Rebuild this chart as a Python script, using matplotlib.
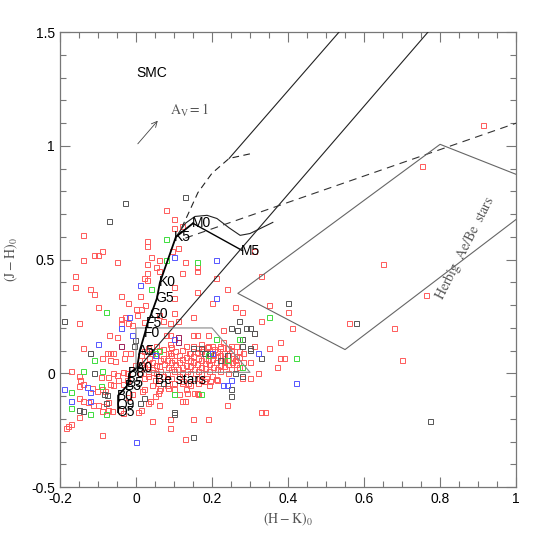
import matplotlib
matplotlib.use('Agg')
import matplotlib.pyplot as plt
import numpy as np

plt.rcParams['font.family'] = ['Liberation Sans', 'DejaVu Sans']
plt.rcParams['mathtext.fontset'] = 'stix'

# 样本星的 (H-K)_0, (J-H)_0 —— 从原图读出
red_pts = np.array([
    # 右侧与上方的散点
    (0.913, 1.094), (0.753, 0.910), (0.650, 0.480), (0.763, 0.347), (0.330, 0.430),
    (0.240, 0.370), (0.350, 0.300), (0.400, 0.270), (0.260, 0.290), (0.280, 0.270),
    (0.330, 0.230), (0.230, 0.190), (0.310, 0.180), (0.410, 0.200), (0.560, 0.220),
    (0.680, 0.200), (0.380, 0.140), (0.350, 0.110), (0.380, 0.070), (0.370, 0.030),
    (0.700, 0.057), (0.300, 0.050), (0.390, 0.070), (0.320, 0.000), (0.280, -0.020),
    (0.340, -0.170), (0.330, -0.170), (0.240, -0.140), (0.310, 0.540),
    # 左上
    (0.080, 0.720), (0.100, 0.680), (0.100, 0.640), (0.120, 0.650), (-0.140, 0.610),
    (0.110, 0.550), (0.095, 0.540), (0.030, 0.580), (0.030, 0.560), (-0.090, 0.540),
    (-0.110, 0.520), (-0.100, 0.520), (-0.140, 0.500), (-0.050, 0.490), (0.040, 0.510),
    (0.060, 0.500), (0.130, 0.490), (0.030, 0.480), (0.053, 0.470), (0.160, 0.470),
    (0.160, 0.450), (0.060, 0.450), (0.030, 0.440), (0.120, 0.440), (-0.160, 0.430),
    (0.020, 0.420), (0.030, 0.410), (0.210, 0.420), (-0.160, 0.380), (-0.120, 0.370),
    (-0.110, 0.350), (0.100, 0.380), (0.160, 0.360), (-0.040, 0.340), (0.010, 0.340),
    (0.100, 0.330), (-0.020, 0.310), (0.200, 0.310), (-0.100, 0.290), (0.000, 0.285),
    (0.013, 0.285), (0.024, 0.300), (-0.150, 0.220), (-0.040, 0.240), (-0.040, 0.220),
    (-0.030, 0.250), (0.003, 0.255), (0.060, 0.255), (0.100, 0.265), (0.150, 0.250),
    (0.070, 0.230), (0.090, 0.220), (0.110, 0.230), (-0.020, 0.220), (-0.010, 0.215),
    (0.020, 0.225), (-0.070, 0.170), (-0.050, 0.160), (0.080, 0.170), (0.090, 0.170),
    (0.150, 0.170), (0.160, 0.170), (-0.140, 0.110), (0.190, 0.170), (0.230, 0.140),
    (0.090, 0.130), (0.170, 0.130), (0.150, 0.120), (0.190, 0.120), (0.200, 0.120),
    (0.220, 0.110), (0.240, 0.110), (0.250, 0.120), (0.310, 0.120), (0.090, 0.090),
    (0.140, 0.090), (0.160, 0.095),
    # 左下
    (-0.090, 0.070), (-0.076, 0.090), (-0.068, 0.090), (-0.060, 0.090), (-0.030, 0.090),
    (-0.016, 0.090), (-0.068, 0.060), (-0.055, 0.055), (-0.032, 0.070), (-0.003, 0.035),
    (-0.170, 0.010), (-0.092, -0.015), (-0.074, -0.015), (-0.060, 0.000), (-0.050, -0.005),
    (-0.034, 0.005), (-0.024, 0.000), (-0.150, -0.010), (-0.147, -0.027), (-0.150, -0.055),
    (-0.140, -0.045), (-0.115, -0.065), (-0.103, -0.075), (-0.089, -0.070), (-0.082, -0.075),
    (-0.068, -0.045), (-0.060, -0.050), (-0.047, -0.030), (-0.034, -0.045), (-0.024, -0.030),
    (-0.150, -0.110), (-0.140, -0.120), (-0.127, -0.125), (-0.113, -0.140), (-0.100, -0.140),
    (-0.087, -0.145), (-0.074, -0.125), (-0.089, -0.165), (-0.074, -0.160), (-0.063, -0.165),
    (-0.150, -0.190), (-0.180, -0.230), (-0.170, -0.220), (-0.183, -0.240), (-0.090, -0.270),
    (0.005, -0.170), (0.013, -0.160), (0.042, -0.210), (0.032, -0.130), (0.037, -0.120),
    (0.050, -0.100), (0.058, -0.085), (-0.010, -0.090), (-0.021, -0.105), (0.050, -0.030),
    (0.058, -0.040), (0.032, 0.000), (0.045, 0.005), (0.016, -0.075), (-0.042, -0.160),
    (-0.034, -0.175), (0.090, -0.240), (0.130, -0.290), (0.130, -0.123), (0.120, -0.123),
    (0.060, -0.140), (0.090, -0.200), (0.150, -0.200), (0.190, -0.200), (0.063, -0.062),
    (0.084, -0.062), (0.134, -0.088), (0.153, -0.084), (0.160, -0.088), (0.100, -0.044),
    (0.120, -0.044), (0.137, -0.044), (0.163, -0.044), (0.180, -0.031), (0.195, -0.031),
    (0.210, -0.026), (0.300, -0.022),
    # 中央密集区
    (0.052, 0.120), (0.093, 0.118), (0.131, 0.121), (0.188, 0.117), (0.221, 0.122), (0.262, 0.119),
    (0.031, 0.110), (0.072, 0.108), (0.163, 0.111), (0.204, 0.108), (0.243, 0.112),
    (0.022, 0.100), (0.061, 0.101), (0.103, 0.098), (0.122, 0.102), (0.171, 0.100), (0.212, 0.098),
    (0.251, 0.101), (0.272, 0.099),
    (0.041, 0.090), (0.083, 0.088), (0.142, 0.091), (0.182, 0.089), (0.232, 0.090), (0.281, 0.088),
    (0.012, 0.080), (0.053, 0.081), (0.092, 0.079), (0.113, 0.080), (0.151, 0.078), (0.191, 0.081),
    (0.203, 0.079), (0.222, 0.080), (0.241, 0.082), (0.262, 0.078),
    (0.033, 0.070), (0.071, 0.068), (0.132, 0.071), (0.162, 0.070), (0.181, 0.069), (0.212, 0.071),
    (0.231, 0.068), (0.252, 0.070), (0.271, 0.072),
    (0.021, 0.060), (0.062, 0.061), (0.081, 0.059), (0.101, 0.060), (0.122, 0.062), (0.143, 0.059),
    (0.172, 0.061), (0.190, 0.058), (0.201, 0.062), (0.223, 0.060), (0.242, 0.059), (0.261, 0.061),
    (0.042, 0.050), (0.091, 0.049), (0.112, 0.051), (0.151, 0.050), (0.182, 0.048), (0.211, 0.051),
    (0.232, 0.049), (0.253, 0.050), (0.282, 0.052),
    (0.012, 0.040), (0.031, 0.041), (0.052, 0.039), (0.073, 0.040), (0.102, 0.042), (0.131, 0.039),
    (0.161, 0.040), (0.192, 0.041), (0.221, 0.038), (0.243, 0.040), (0.262, 0.041),
    (0.022, 0.030), (0.061, 0.031), (0.083, 0.029), (0.121, 0.030), (0.142, 0.032), (0.171, 0.029),
    (0.202, 0.030), (0.231, 0.031), (0.272, 0.029),
    (0.043, 0.020), (0.092, 0.021), (0.111, 0.019), (0.152, 0.020), (0.181, 0.022), (0.213, 0.020),
    (0.251, 0.019),
    (0.032, 0.010), (0.063, 0.011), (0.101, 0.009), (0.133, 0.010), (0.162, 0.012), (0.191, 0.010),
    (0.222, 0.009),
    (0.011, 0.000), (0.052, 0.001), (0.082, -0.001), (0.121, 0.000), (0.142, 0.002), (0.172, -0.001),
    (0.241, 0.000),
    (0.031, -0.010), (0.072, -0.011), (0.112, -0.009), (0.201, -0.010),
    (0.022, -0.020), (0.091, -0.021), (0.152, -0.019), (0.183, -0.020),
    (0.051, -0.030), (0.123, -0.031), (0.171, -0.029), (0.212, -0.030),
    (0.041, -0.050), (0.082, -0.049), (0.141, -0.051), (0.192, -0.050),
    (0.021, -0.070), (0.061, -0.071), (0.101, -0.069), (0.132, -0.070),
    (0.112, -0.090), (0.163, -0.091),
])

black_pts = np.array([
    (-0.030, 0.750), (-0.070, 0.670), (0.130, 0.775), (0.400, 0.310), (0.270, 0.230),
    (0.250, 0.200), (0.290, 0.200), (0.300, 0.200), (0.310, 0.180), (0.580, 0.220),
    (0.330, 0.070), (0.300, 0.110), (0.280, 0.150), (-0.190, 0.230), (0.774, -0.210),
    (0.265, 0.190), (0.150, 0.110), (0.170, 0.110), (0.180, 0.090), (0.195, 0.090),
    (0.280, 0.120), (0.300, 0.105), (0.260, 0.000), (0.280, -0.010), (-0.120, 0.090),
    (-0.110, 0.000), (-0.150, -0.160), (-0.140, -0.165), (0.100, -0.170), (0.100, -0.180),
    (0.250, -0.070), (0.150, -0.280), (0.010, -0.130), (0.020, -0.110), (-0.085, -0.090),
    (-0.075, -0.095), (-0.080, -0.130), (0.040, 0.100), (0.070, -0.040), (0.250, -0.100),
    (0.220, 0.060), (0.240, 0.080), (-0.005, 0.120), (-0.003, 0.145),
])

green_pts = np.array([
    (0.080, 0.590), (0.080, 0.500), (0.160, 0.490), (0.040, 0.370), (-0.080, 0.270),
    (0.350, 0.250), (0.270, 0.150), (0.420, 0.070), (0.210, 0.150), (-0.110, 0.060),
    (-0.140, 0.010), (-0.090, 0.010), (-0.170, -0.080), (-0.170, -0.150), (-0.120, -0.180),
    (-0.080, -0.180), (0.280, 0.030), (0.100, -0.090), (0.170, -0.090), (0.060, 0.100),
    (0.190, 0.080), (0.240, 0.060), (-0.093, -0.055), (0.050, 0.090),
])

blue_pts = np.array([
    (0.100, 0.510), (0.210, 0.500), (0.010, 0.390), (0.210, 0.330), (-0.018, 0.250),
    (-0.040, 0.200), (-0.010, 0.170), (-0.100, 0.130), (0.320, 0.090), (0.100, 0.150),
    (-0.190, -0.070), (-0.170, -0.120), (-0.130, -0.060), (-0.120, -0.080), (0.000, -0.300),
    (0.250, -0.030), (0.420, -0.040), (0.230, -0.050), (0.240, -0.050), (0.050, 0.080),
    (0.200, 0.090), (-0.120, -0.120),
])

purple_pts = np.array([(-0.040, 0.120), (0.110, 0.160), (0.110, 0.140)])

# 主序星轨迹与光谱型
sp_types = ['O5', 'O9', 'B0', 'B3', 'B5', 'B8', 'A0', 'A5', 'F0', 'F5', 'G0', 'G5', 'K0', 'K5', 'M0', 'M5']
sp_hk = [-0.047, -0.047, -0.047, -0.025, -0.02, -0.018, 0.003, 0.01, 0.024, 0.03, 0.04, 0.055, 0.063, 0.105, 0.15, 0.28]
sp_jh = [-0.17, -0.137, -0.097, -0.057, -0.04, 0.0, 0.026, 0.10, 0.18, 0.22, 0.26, 0.33, 0.40, 0.60, 0.66, 0.54]

# Bessell & Brett 矮星 M 型尾部
bb_hk = [0.105, 0.13, 0.155, 0.187, 0.213, 0.245, 0.274, 0.30, 0.36]
bb_jh = [0.60, 0.66, 0.69, 0.695, 0.681, 0.64, 0.607, 0.615, 0.664]

# 巨星支（虚线）
giant_hk = [0.12, 0.137, 0.163, 0.20, 0.245, 0.305]
giant_jh = [0.64, 0.70, 0.795, 0.88, 0.945, 0.967]

# 红化线
redA_hk, redA_jh = [0.245, 0.534], [0.945, 1.5]
redB_hk, redB_jh = [0.005, 0.768], [0.022, 1.5]

# CTTS 轨迹
ctts_hk, ctts_jh = [0.13, 1.0], [0.595, 1.10]

# Herbig Ae/Be 区域
haebe_hk = [1.0, 0.80, 0.268, 0.55, 1.0]
haebe_jh = [0.875, 1.007, 0.352, 0.105, 0.677]

# Be 星区域
be_hk = [0.0, 0.0, 0.2, 0.3, 0.0]
be_jh = [0.005, 0.2, 0.2, 0.005, 0.005]

fig = plt.figure(figsize=(5.45, 5.45), dpi=100)
ax = fig.add_axes([0.110, 0.106, 0.837, 0.835])

mk = dict(marker='s', linestyle='none', markersize=3.6, markeredgewidth=0.7,
          markerfacecolor='none', zorder=2)
ax.plot(red_pts[:, 0], red_pts[:, 1], markeredgecolor='#ff5a5a', **mk)
ax.plot(black_pts[:, 0], black_pts[:, 1], markeredgecolor='#555555', **mk)
ax.plot(green_pts[:, 0], green_pts[:, 1], markeredgecolor='#3ddc3d', **mk)
ax.plot(blue_pts[:, 0], blue_pts[:, 1], markeredgecolor='#5555ff', **mk)
ax.plot(purple_pts[:, 0], purple_pts[:, 1], markeredgecolor='#a0205a', **mk)

# 轨迹线
ax.plot(sp_hk[:-1], sp_jh[:-1], color='black', lw=1.3, zorder=3)
ax.plot(sp_hk[-2:], sp_jh[-2:], color='black', lw=1.0, zorder=3)
ax.plot(bb_hk, bb_jh, color='#222222', lw=0.8, zorder=3)
ax.plot(giant_hk, giant_jh, color='#222222', lw=0.8, ls=(0, (6, 4)), zorder=3)
ax.plot(redA_hk, redA_jh, color='#222222', lw=0.8, zorder=3)
ax.plot(redB_hk, redB_jh, color='#222222', lw=0.8, zorder=3)
ax.plot(ctts_hk, ctts_jh, color='#333333', lw=0.8, ls=(0, (7, 5)), zorder=3)
ax.plot(haebe_hk, haebe_jh, color='#666666', lw=0.8, zorder=3)
ax.plot(be_hk, be_jh, color='#888888', lw=0.8, zorder=3)

for name, hk, jh in zip(sp_types, sp_hk, sp_jh):
    ax.text(hk - 0.004, jh, name, fontsize=10, ha='left', va='center', zorder=4)

ax.text(0.05, -0.03, 'Be stars', fontsize=10, ha='left', va='center', zorder=4)
ax.text(0.0, 1.32, 'SMC', fontsize=10, ha='left', va='center')
ax.annotate('', xy=(0.062, 1.12), xytext=(0.0, 1.0),
            arrowprops=dict(arrowstyle='->', color='#444444', lw=0.6))
ax.text(0.09, 1.155, r'$\mathrm{A_V = 1}$', fontsize=10, color='#555555', ha='left', va='center')
ax.text(0.865, 0.55, r'$\mathrm{Herbig\ \ Ae/Be\ \ stars}$', fontsize=10, color='#555555',
        rotation=63, ha='center', va='center')

ax.set_xlim(-0.2, 1.0)
ax.set_ylim(-0.5, 1.5)
ax.set_xticks([-0.2, 0, 0.2, 0.4, 0.6, 0.8, 1])
ax.set_xticklabels(['-0.2', '0', '0.2', '0.4', '0.6', '0.8', '1'])
ax.set_yticks([-0.5, 0, 0.5, 1, 1.5])
ax.set_yticklabels(['-0.5', '0', '0.5', '1', '1.5'])
ax.set_xticks(np.arange(-0.2, 1.0001, 0.05), minor=True)
ax.set_yticks(np.arange(-0.5, 1.5001, 0.1), minor=True)
ax.tick_params(which='both', direction='in', top=True, right=True, color='#777777',
               labelsize=10, width=0.8)
ax.tick_params(which='major', length=7)
ax.tick_params(which='minor', length=4)
for spine in ax.spines.values():
    spine.set_color('#777777')
    spine.set_linewidth(0.9)

ax.set_xlabel(r'$\mathrm{(H-K)_0}$', fontsize=10, color='#555555')
ax.set_ylabel(r'$\mathrm{(J-H)_0}$', fontsize=10, color='#555555')
ax.xaxis.set_label_coords(0.5, -0.052)
ax.yaxis.set_label_coords(-0.088, 0.5)

fig.savefig('out.png', dpi=100)
